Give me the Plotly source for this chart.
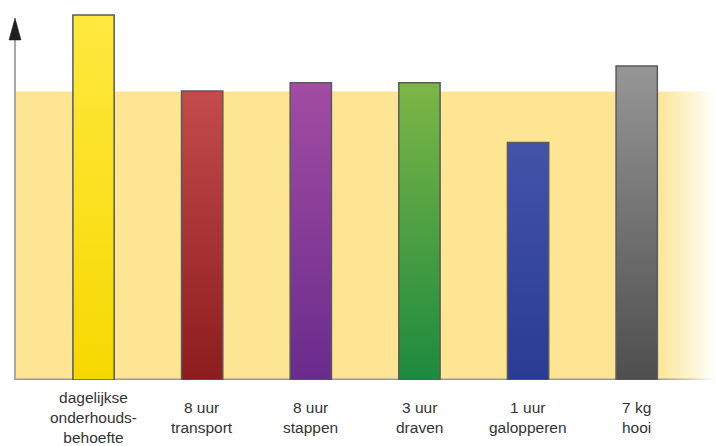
import plotly.graph_objects as go

# ---- data ----
labels = [
    "dagelijkse<br>onderhouds-<br>behoefte",
    "8 uur<br>transport",
    "8 uur<br>stappen",
    "3 uur<br>draven",
    "1 uur<br>galopperen",
    "7 kg<br>hooi",
]
values = [126.5, 100.2, 103.0, 103.0, 82.3, 108.8]
band_level = 100.0
top_colors = ["#FFE93F", "#C44B4B", "#A24CA2", "#7DB646", "#4253A8", "#969696"]
bottom_colors = ["#F6D800", "#8C1C1E", "#692B8C", "#1C8A3E", "#2A3B93", "#4E4E4E"]

# ---- layout constants ----
x_min, x_max = -0.723, 5.73
y_max = 128.25
bar_w = 0.38
band_color = "#FDE594"

fig = go.Figure()

# background band (maintenance level) fading out at the right
fig.add_trace(go.Scatter(
    x=[x_min, x_max, x_max, x_min, x_min],
    y=[0, 0, band_level, band_level, 0],
    mode="none", fill="toself",
    fillgradient=dict(type="horizontal",
                      colorscale=[[0, band_color], [0.915, band_color],
                                  [1, "rgba(253,229,148,0.0)"]],
                      start=x_min, stop=x_max),
    hoverinfo="skip", showlegend=False,
))
# thin base line fading out with the band
fig.add_trace(go.Scatter(
    x=[x_min, x_max, x_max, x_min, x_min],
    y=[0, 0, 0.55, 0.55, 0],
    mode="none", fill="toself",
    fillgradient=dict(type="horizontal",
                      colorscale=[[0, "#9a9a9a"], [0.915, "#9a9a9a"],
                                  [1, "rgba(154,154,154,0.0)"]],
                      start=x_min, stop=x_max),
    hoverinfo="skip", showlegend=False,
))

# bars with vertical gradients
for i, (v, ct, cb) in enumerate(zip(values, top_colors, bottom_colors)):
    x0, x1 = i - bar_w / 2, i + bar_w / 2
    fig.add_trace(go.Scatter(
        x=[x0, x1, x1, x0, x0],
        y=[0, 0, v, v, 0],
        mode="lines", fill="toself",
        line=dict(color="#5a5a5a", width=1.5),
        fillgradient=dict(type="vertical",
                          colorscale=[[0, cb], [1, ct]],
                          start=0, stop=v),
        hoverinfo="skip", showlegend=False,
    ))

# category labels, vertically centred below the base line
for i, lab in enumerate(labels):
    fig.add_annotation(
        x=i, xref="x", y=0, yref="paper",
        text=lab, showarrow=False,
        yanchor="middle", xanchor="center", yshift=-37,
        font=dict(family="Liberation Sans, Arial, sans-serif",
                  size=15.5, color="#333333"),
    )

plot_h = 446 - 10 - 66
# y axis shaft and arrow head (paper coordinates)
fig.add_shape(type="line", xref="paper", yref="paper",
              x0=0, x1=0, y0=0, y1=(380 - 38) / plot_h,
              line=dict(color="#A8A8A8", width=2))
hw = 6 / 701
ytip = (380 - 18) / plot_h
ybase = (380 - 40) / plot_h
fig.add_shape(type="path", xref="paper", yref="paper",
              path=f"M {-hw},{ybase} L {hw},{ybase} L 0,{ytip} Z",
              fillcolor="#1e1e1e", line=dict(color="#1e1e1e", width=0.5))

fig.update_layout(
    width=716, height=446,
    margin=dict(l=15, r=0, t=10, b=66),
    plot_bgcolor="white", paper_bgcolor="white",
    xaxis=dict(range=[x_min, x_max], visible=False, fixedrange=True),
    yaxis=dict(range=[0, y_max], visible=False, fixedrange=True),
    showlegend=False,
)

fig.write_html("out.html")
